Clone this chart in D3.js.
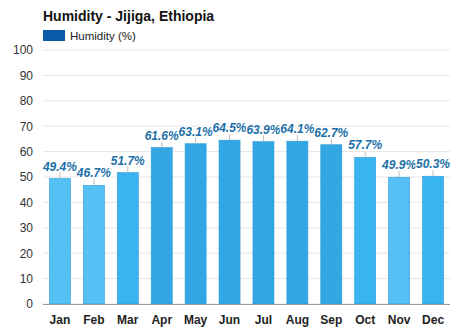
<!DOCTYPE html>
<html><head><meta charset="utf-8">
<script src="https://cdn.jsdelivr.net/npm/d3@7"></script>
<style>body{margin:0;background:#fff;font-family:Arial,"Liberation Sans",sans-serif;}</style>
</head><body><svg id="c" width="474" height="331"></svg>
<script>
const months = ["Jan","Feb","Mar","Apr","May","Jun","Jul","Aug","Sep","Oct","Nov","Dec"];
const humidity = [49.4,46.7,51.7,61.6,63.1,64.5,63.9,64.1,62.7,57.7,49.9,50.3];
const yTicks = [0,10,20,30,40,50,60,70,80,90,100];
const title = "Humidity - Jijiga, Ethiopia";
const legendLabel = "Humidity (%)";

const svg = d3.select("#c");
const m = {l:43, r:24, t:50, b:27};
const W = 474, H = 331;
const x = d3.scaleBand().domain(months).range([m.l, W - m.r]).paddingInner(0.38).paddingOuter(0.19);
const y = d3.scaleLinear().domain([0,100]).range([304, 50]);

function barColor(v){
  if (v < 50) return "#56bff3";
  if (v < 58) return "#3ab4f0";
  return "#33a6e4";
}

// grid
svg.append("g").selectAll("line").data(yTicks).join("line")
  .attr("x1", m.l).attr("x2", W - m.r)
  .attr("y1", d => y(d)).attr("y2", d => y(d))
  .attr("stroke", "#e6e6e6").attr("stroke-width", 1);

// y axis labels
const ya = svg.append("g").attr("transform", `translate(${m.l},0)`)
  .call(d3.axisLeft(y).tickValues(yTicks).tickSize(0).tickPadding(10));
ya.select(".domain").remove();
ya.selectAll("text").attr("font-size", 12).attr("fill", "#333").attr("font-family", "Arial, 'Liberation Sans', sans-serif");

// bars
svg.append("g").selectAll("rect").data(humidity).join("rect")
  .attr("x", (d,i) => x(months[i]))
  .attr("width", x.bandwidth())
  .attr("y", d => y(d))
  .attr("height", d => y(0) - y(d))
  .attr("fill", d => barColor(d))
  .attr("stroke", "#2b9bd8").attr("stroke-width", 0.6);

// small ticks above bars
svg.append("g").selectAll("line").data(humidity).join("line")
  .attr("x1", (d,i) => x(months[i]) + x.bandwidth()/2)
  .attr("x2", (d,i) => x(months[i]) + x.bandwidth()/2)
  .attr("y1", d => y(d)).attr("y2", d => y(d) - 6)
  .attr("stroke", "#bbb").attr("stroke-width", 1);

// value labels
svg.append("g").selectAll("text").data(humidity).join("text")
  .attr("x", (d,i) => x(months[i]) + x.bandwidth()/2)
  .attr("y", d => y(d) - 8)
  .attr("text-anchor", "middle")
  .attr("font-size", 12).attr("font-weight", "bold").attr("font-style", "italic")
  .attr("fill", "#1d6fa8")
  .attr("stroke", "#fff").attr("stroke-width", 2).attr("paint-order", "stroke")
  .text(d => d.toFixed(1) + "%");

// x axis
const xa = svg.append("g").attr("transform", `translate(0,${y(0)})`)
  .call(d3.axisBottom(x).tickSize(0).tickPadding(11));
xa.select(".domain").attr("stroke", "#999").attr("d", `M${m.l},0.5H${W - m.r}`);
xa.selectAll("text").attr("font-size", 12).attr("font-weight", "bold").attr("fill", "#222")
  .attr("font-family", "Arial, 'Liberation Sans', sans-serif");

// title
svg.append("text").attr("x", 43).attr("y", 21)
  .attr("font-size", 14).attr("font-weight", "bold").attr("fill", "#111").text(title);

// legend
svg.append("rect").attr("x", 43).attr("y", 30).attr("width", 22).attr("height", 11).attr("fill", "#0b5aa8");
svg.append("text").attr("x", 70).attr("y", 40).attr("font-size", 11.5).attr("fill", "#222").text(legendLabel);
</script></body></html>
